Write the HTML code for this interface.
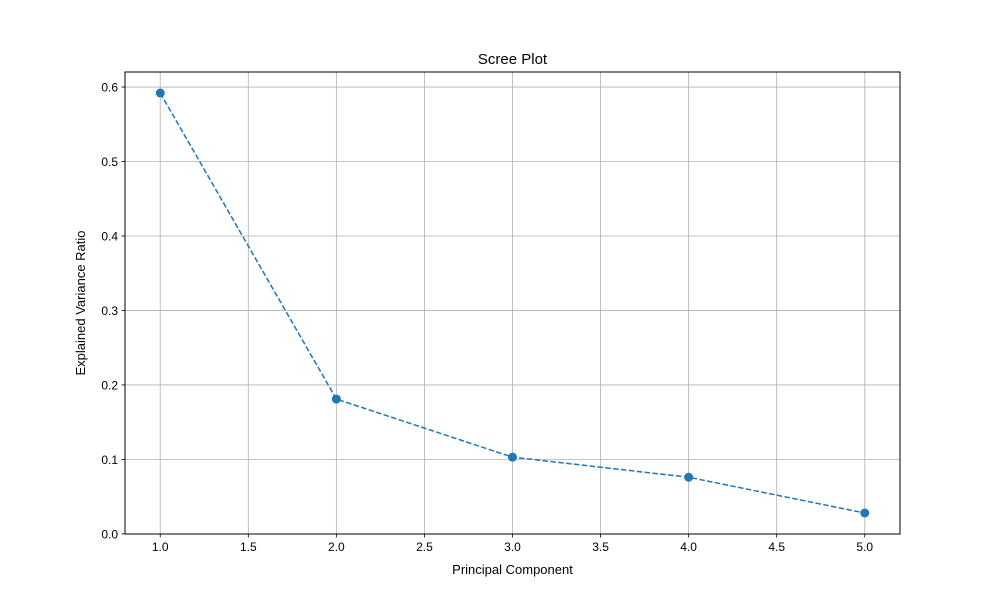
<!DOCTYPE html>
<html><head><meta charset="utf-8"><style>
body{margin:0;background:#fff;}
svg text{font-family:"Liberation Sans","DejaVu Sans",sans-serif;fill:#000;}
</style></head><body>
<svg id="chart" width="1000" height="600" xmlns="http://www.w3.org/2000/svg">
<rect width="1000" height="600" fill="#fff"/>
<g id="grid"></g>
<g id="series"></g>
<rect x="125" y="72" width="775" height="462" fill="none" stroke="#000" stroke-width="1"/>
<g id="ticks"></g>
<text x="512.5" y="64" font-size="15" text-anchor="middle">Scree Plot</text>
<text x="512.5" y="574" font-size="13" text-anchor="middle">Principal Component</text>
<text transform="translate(85,303) rotate(-90)" font-size="13" text-anchor="middle">Explained Variance Ratio</text>
</svg>
<script>
const components = [1, 2, 3, 4, 5];
const varianceRatio = [0.592, 0.181, 0.103, 0.076, 0.028];
const xTicks = [1.0, 1.5, 2.0, 2.5, 3.0, 3.5, 4.0, 4.5, 5.0];
const yTicks = [0.0, 0.1, 0.2, 0.3, 0.4, 0.5, 0.6];

const L=125,R=900,T=72,B=534;
const NS='http://www.w3.org/2000/svg';
const xmin0=Math.min(...components),xmax0=Math.max(...components);
const ymin0=Math.min(...varianceRatio),ymax0=Math.max(...varianceRatio);
const xm=(xmax0-xmin0)*0.05,ym=(ymax0-ymin0)*0.05;
const xlo=xmin0-xm,xhi=xmax0+xm,ylo=ymin0-ym,yhi=ymax0+ym;
function sx(v){return L+(v-xlo)/(xhi-xlo)*(R-L);}
function sy(v){return B-(v-ylo)/(yhi-ylo)*(B-T);}
function mk(tag,attrs,parent){const e=document.createElementNS(NS,tag);for(const k in attrs)e.setAttribute(k,attrs[k]);parent.appendChild(e);return e;}
const grid=document.getElementById('grid'),ticks=document.getElementById('ticks'),series=document.getElementById('series');
xTicks.forEach(v=>{
  const x=sx(v);
  const g=mk('line',{x1:x,x2:x,y1:T,y2:B,stroke:'#b0b0b0','stroke-width':0.8},grid);
  
  
  const t=mk('line',{x1:x,x2:x,y1:B,y2:B+3.5,stroke:'#000','stroke-width':0.8},ticks);
  
  
  const l=mk('text',{x:x,y:B+17,'font-size':12,'text-anchor':'middle'},ticks);
  l.textContent=v.toFixed(1);
  
  
});
yTicks.forEach(v=>{
  const y=sy(v);
  const g=mk('line',{x1:L,x2:R,y1:y,y2:y,stroke:'#b0b0b0','stroke-width':0.8},grid);
  
  
  const t=mk('line',{x1:L-3.5,x2:L,y1:y,y2:y,stroke:'#000','stroke-width':0.8},ticks);
  
  
  const l=mk('text',{x:L-7,y:y+4.5,'font-size':12,'text-anchor':'end'},ticks);
  l.textContent=v.toFixed(1);
  
  
});
const pts=components.map((c,i)=>sx(c)+','+sy(varianceRatio[i])).join(' ');
const line=mk('polyline',{points:pts,fill:'none',stroke:'#1f77b4','stroke-width':1.5,'stroke-dasharray':'5.5,2.4'},series);


components.forEach((c,i)=>{
  const p=mk('circle',{cx:sx(c),cy:sy(varianceRatio[i]),r:4.5,fill:'#1f77b4'},series);
  
  
});
</script>
</body></html>
